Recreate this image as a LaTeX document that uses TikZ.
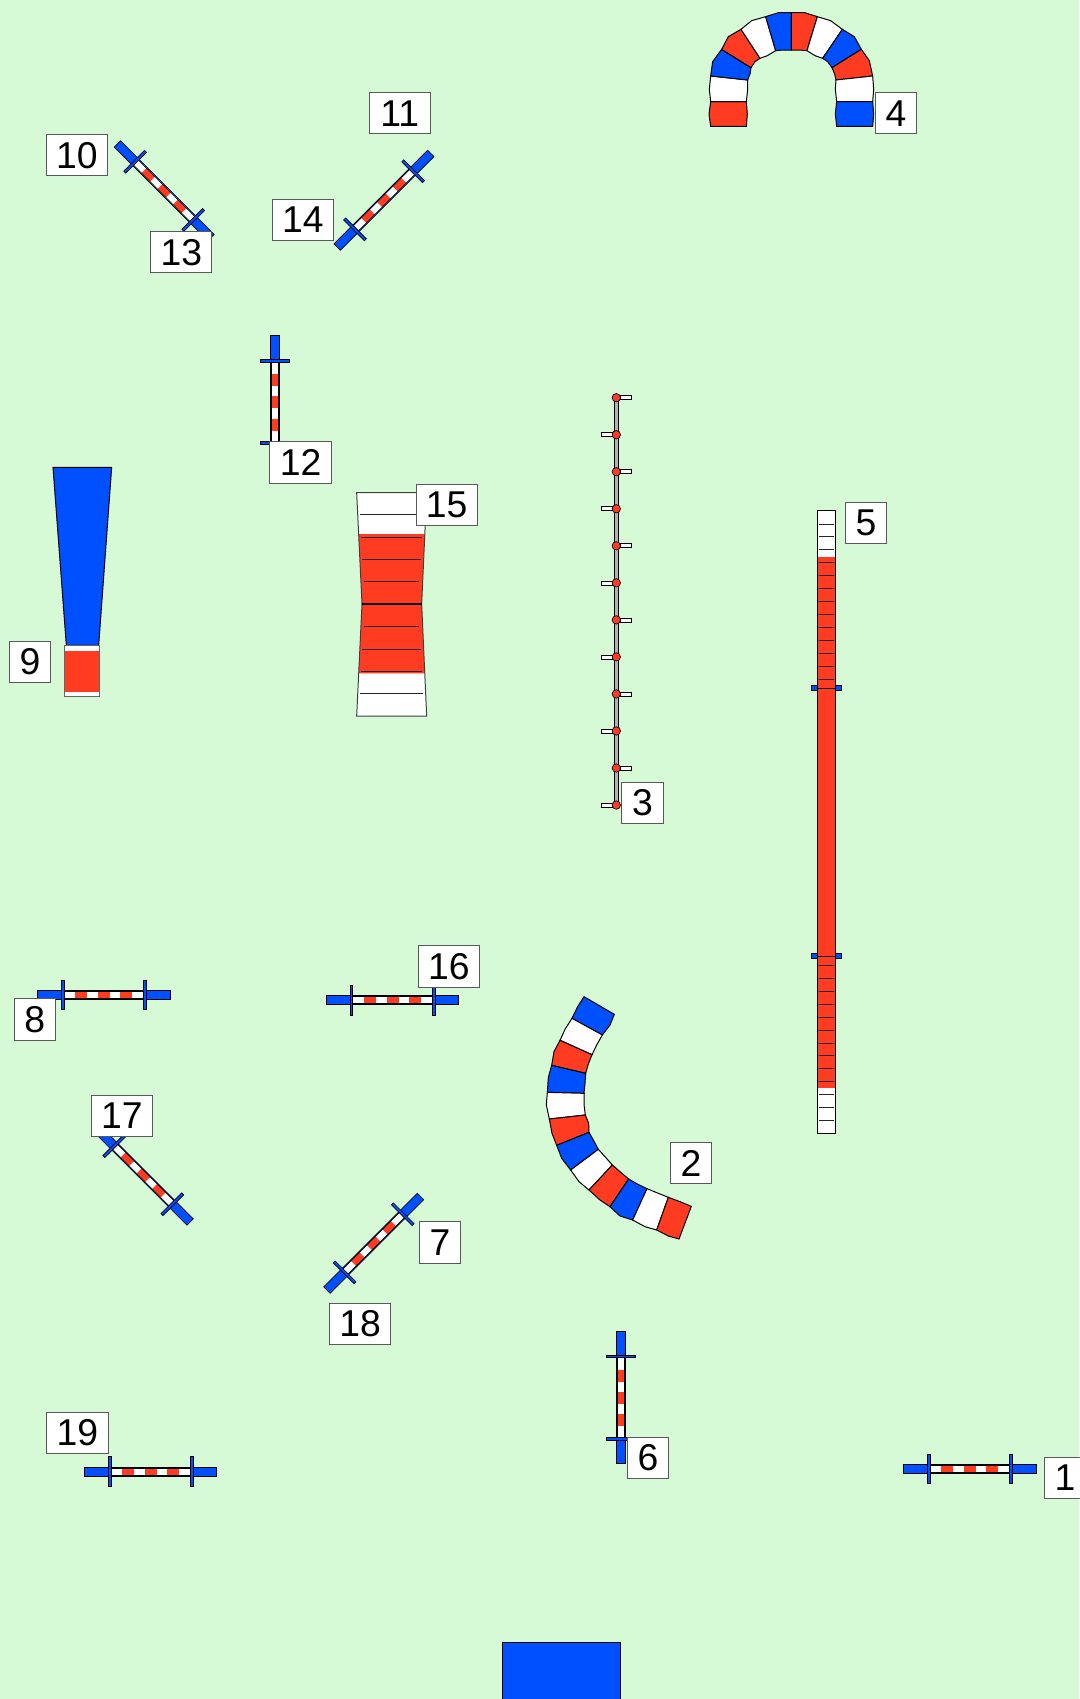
\documentclass[tikz,border=0pt]{standalone}
\usepackage{fontspec}
\setmainfont{Liberation Sans}
\definecolor{fieldgreen}{RGB}{214,250,214}
\definecolor{flagred}{RGB}{255,59,34}
\definecolor{flagblue}{RGB}{0,80,255}
\tikzset{
    numlabel/.style={draw=black!65, fill=white, line width=0.75pt, inner sep=0pt,
        minimum width=31pt, minimum height=31pt, font=\fontsize{28}{28}\selectfont},
    widelabel/.style={numlabel, minimum width=46pt},
    outline/.style={draw=black, line width=0.75pt},
    thinline/.style={draw=black, line width=0.5pt},
    tick/.style={draw=black!85, line width=0.75pt},
    pics/hurdle/.style={code={
        \filldraw[thinline, fill=flagblue] (-66.2,-4.5) rectangle (66.2,4.5);
        \fill[white] (-40,-3.5) rectangle (40,3.5);
        \foreach \s in {-28.5,-6,16} {
            \fill[flagred] (\s,-3.5) rectangle (\s+12,3.5);
        }
        \draw[black, line width=0.4pt] (-40,-3.5) rectangle (40,3.5);
        \filldraw[thinline, fill=flagblue] (-42.5,-14.7) rectangle (-39.7,14.7);
        \filldraw[thinline, fill=flagblue] (39.7,-14.7) rectangle (42.5,14.7);
    }},
}
\newcommand{\archblocks}[2]{%
    \foreach \i/\ox/\oy/\ix/\iy [count=\k from 0] in {#1} {
        \coordinate (o\k) at (\ox,\oy);
        \coordinate (n\k) at (\ix,\iy);
    }
    \foreach \c [count=\j from 0] in {#2} {
        \pgfmathtruncatemacro{\ja}{2*\j}
        \pgfmathtruncatemacro{\jb}{2*\j+1}
        \pgfmathtruncatemacro{\jc}{2*\j+2}
        \filldraw[outline, fill=\c] (o\ja) -- (o\jb) -- (o\jc) -- (n\jc) -- (n\jb) -- (n\ja) -- cycle;
    }
}

\begin{document}
\begin{tikzpicture}[x=0.75pt, y=-0.75pt]
    \useasboundingbox (0,0) rectangle (1079,1699);
    \fill[fieldgreen] (0,0) rectangle (1079,1699);

    % start block at the bottom edge
    \filldraw[outline, fill=flagblue] (502.3,1642) rectangle (620,1710);

    % arch top right
    \begin{scope}[shift={(680,0)}, scale=1/3]
        \archblocks{
            0/92/379/199/379, 1/87/342/202/342, 2/92/305/199/305, 3/88/268/203/268,
            4/92/228/203/240, 5/98/185/210/222, 6/125/148/213/203, 7/145/110/225/185,
            8/183/88/240/175, 9/215/62/262/167, 10/257/50/287/152, 11/295/38/310/150,
            12/334/38/334/150, 13/374/38/358/150, 14/412/50/381/152, 15/452/62/405/167,
            16/487/88/428/175, 17/523/110/443/185, 18/544/148/456/203, 19/568/182/464/222,
            20/578/228/468/240, 21/581/268/466/268, 22/578/305/470/305, 23/581/342/466/342,
            24/578/379/470/379}
        {flagred,white,flagblue,flagred,white,flagblue,flagred,white,flagblue,flagred,white,flagblue}
    \end{scope}

    % arch lower middle
    \begin{scope}[shift={(530,960)}, scale=1/3]
        \archblocks{
            0/162/110/253/163, 1/143/140/240/195, 2/126/175/217/225, 3/105/208/200/255,
            4/90/241/186/284, 5/72/275/175/312, 6/65/316/167/340, 7/55/352/165/370,
            8/52/397/162/400, 9/49/435/162/433, 10/58/477/166/465, 11/66/520/176/490,
            12/80/556/177/517, 13/95/595/190/540, 14/122/630/205/568, 15/147/665/225/590,
            16/177/690/247/615, 17/210/720/270/635, 18/240/740/296/657, 19/270/768/322/672,
            20/308/780/351/686, 21/345/800/385/700, 22/380/810/415/712, 23/415/828/450/725,
            24/447/837/484/739}
        {flagblue,white,flagred,flagblue,white,flagred,flagblue,white,flagred,flagblue,white,flagred}
    \end{scope}

    % long tunnel
    \filldraw[outline, fill=white] (817.3,510.7) rectangle (835,1133.3);
    \fill[flagred] (817.3,557.3) rectangle (835,1087.7);
    \draw[outline] (817.3,510.7) rectangle (835,1133.3);
    \foreach \i in {0,...,12} {
        \draw[tick] (819,524+12.95*\i) -- (833.7,524+12.95*\i);
        \draw[tick] (819,965.3+12.95*\i) -- (833.7,965.3+12.95*\i);
    }
    \foreach \y in {688,956} {
        \filldraw[outline, fill=flagblue] (811.3,\y-2.5) rectangle (817.3,\y+2.5);
        \filldraw[outline, fill=flagblue] (835,\y-2.5) rectangle (841,\y+2.5);
        \draw[outline] (817.3,\y) -- (835,\y);
    }

    % weave poles
    \filldraw[thinline, fill=black!30] (614.3,397.7) rectangle (618.3,805);
    \foreach \i in {0,...,11} {
        \pgfmathsetmacro{\y}{397.7+37.03*\i}
        \ifodd\i
            \filldraw[thinline, fill=white] (601.7,\y-2) rectangle (612.7,\y+2);
        \else
            \filldraw[thinline, fill=white] (620.7,\y-2) rectangle (631.7,\y+2);
        \fi
        \filldraw[thinline, fill=flagred] (616.3,\y) circle (4.2);
    }

    % tyre stand
    \begin{scope}[shift={(340,470)}, scale=1/3]
        \fill[white] (50,68) -- (66,402) -- (50,738) -- (260,738) -- (245,402) -- (260,68) -- cycle;
        \fill[flagred] (56,192) -- (66,402) -- (56,610) -- (254,610) -- (245,402) -- (254,192) -- cycle;
        \draw[outline, draw=black!75] (50,68) -- (66,402) -- (50,738) -- (260,738) -- (245,402) -- (260,68) -- cycle;
        \foreach \y/\w in {134/95,202/91,268/88,335/83,469/83,537/88,603/91,670/95} {
            \draw[tick] (155-\w,\y) -- (155+\w,\y);
        }
        \draw[outline, line width=1.1pt] (66,402) -- (245,402);
    \end{scope}

    % collapsed tunnel
    \begin{scope}[shift={(0,450)}, scale=1/3]
        \filldraw[outline, fill=flagblue] (159,52) -- (335,52) -- (296,586) -- (199,586) -- cycle;
        \filldraw[outline, fill=white] (194,586) rectangle (300,740);
        \fill[flagred] (194,603) rectangle (300,725);
        \draw[outline, draw=black!60] (194,586) rectangle (300,740);
    \end{scope}

    % jumps
    \pic[rotate=0] at (969.7,1468.8) {hurdle};
    \pic[rotate=0] at (103.7,994.7) {hurdle};
    \pic[rotate=0] at (392.5,1000.2) {hurdle};
    \pic[rotate=0] at (150.6,1471.5) {hurdle};
    \pic[rotate=90] at (620.7,1397.5) {hurdle};
    \pic[rotate=90] at (275,402) {hurdle};
    \pic[rotate=-45] at (164.2,190.8) {hurdle};
    \pic[rotate=45] at (384,200.3) {hurdle};
    \pic[rotate=-45] at (143.3,1175.2) {hurdle};
    \pic[rotate=45] at (373.7,1243.3) {hurdle};

    % numbers
    \node[numlabel] (lab1) at (1065,1478) {1};
    \node[numlabel] (lab2) at (691,1163) {2};
    \node[numlabel] (lab3) at (642.5,803) {3};
    \node[numlabel] (lab4) at (896,113.3) {4};
    \node[numlabel] (lab5) at (866,522.7) {5};
    \node[numlabel] (lab6) at (648,1458) {6};
    \node[numlabel] (lab7) at (440,1242.6) {7};
    \node[numlabel] (lab8) at (34.7,1019.5) {8};
    \node[numlabel] (lab9) at (30,661.7) {9};
    \node[widelabel] (lab10) at (77,155.3) {10};
    \node[widelabel] (lab11) at (399.7,113.3) {11};
    \node[widelabel] (lab12) at (300.6,462.6) {12};
    \node[widelabel] (lab13) at (181.3,252.3) {13};
    \node[widelabel] (lab14) at (303,220) {14};
    \node[widelabel] (lab15) at (446.7,505.3) {15};
    \node[widelabel] (lab16) at (449,966.5) {16};
    \node[widelabel] (lab17) at (122,1115.8) {17};
    \node[widelabel] (lab18) at (360.2,1323.7) {18};
    \node[widelabel] (lab19) at (77.5,1433) {19};
\end{tikzpicture}
\end{document}
